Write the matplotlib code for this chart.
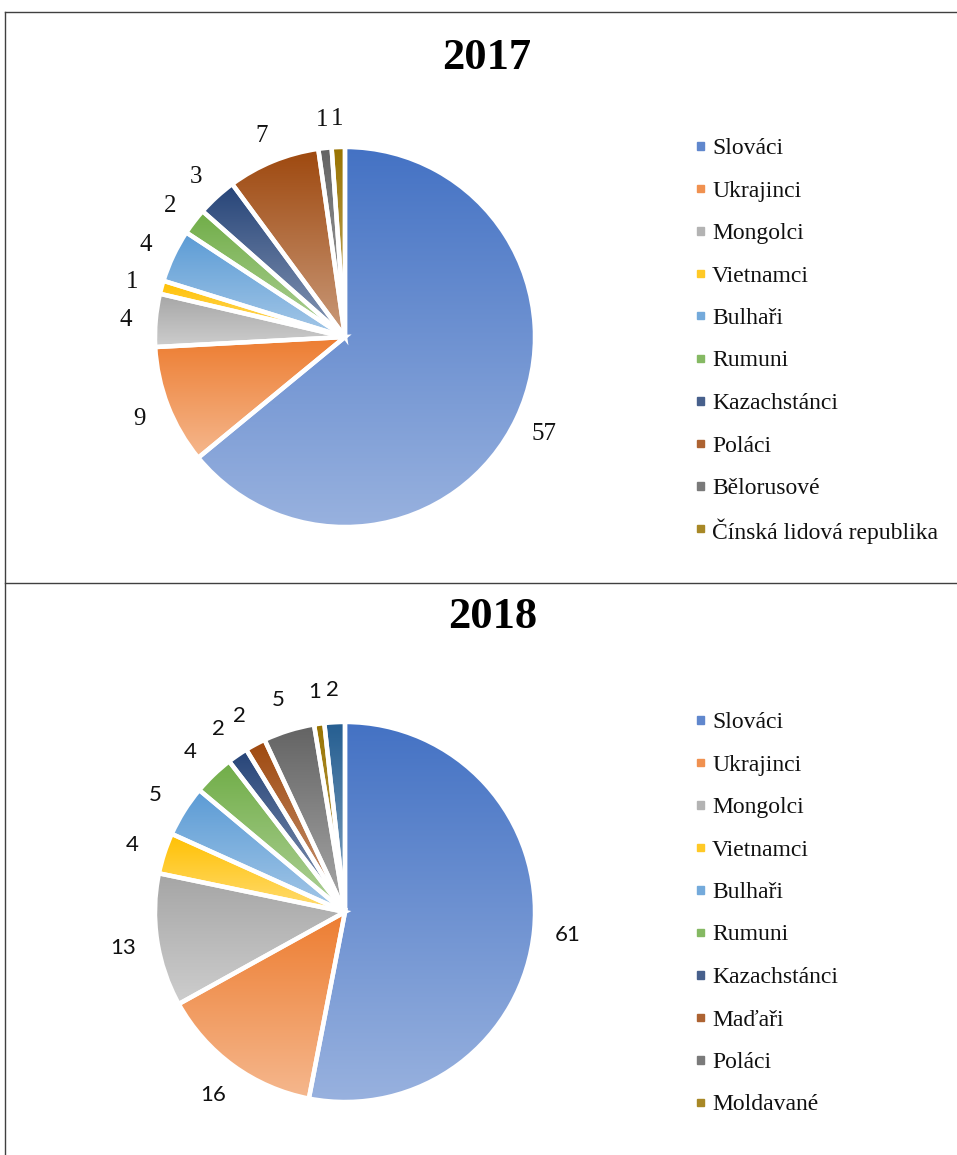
import numpy as np
import matplotlib.pyplot as plt
from matplotlib.colors import to_rgb
from matplotlib.lines import Line2D
from matplotlib.patches import Rectangle

# data
labels_2017 = ["Slováci", "Ukrajinci", "Mongolci", "Vietnamci", "Bulhaři", "Rumuni",
               "Kazachstánci", "Poláci", "Bělorusové", "Čínská lidová republika"]
values_2017 = [57, 9, 4, 1, 4, 2, 3, 7, 1, 1]

labels_2018 = ["Slováci", "Ukrajinci", "Mongolci", "Vietnamci", "Bulhaři", "Rumuni",
               "Kazachstánci", "Maďaři", "Poláci", "Moldavané"]
values_2018 = [61, 16, 13, 4, 5, 4, 2, 2, 5, 1, 2]

office_colors = ["#4472C4", "#ED7D31", "#A5A5A5", "#FFC000", "#5B9BD5", "#70AD47",
                 "#264478", "#9E480E", "#636363", "#997300", "#255E91"]
colors_2017 = office_colors[:7] + ["#9E480E", "#636363", "#997300"]
colors_2018 = office_colors

W, H = 957, 1155
fig = plt.figure(figsize=(W / 100, H / 100), dpi=100)

serif = "Liberation Serif"


def lighten(c, amt):
    c = np.array(to_rgb(c))
    return c + (1 - c) * amt


def gradient_pie(cx, cy, r, values, colors, label_font, label_size, label_dist):
    lim = 1.35
    size = 2 * lim * r
    ax = fig.add_axes([(cx - size / 2) / W, (H - cy - size / 2) / H, size / W, size / H])
    wedges, _ = ax.pie(values, startangle=90, counterclock=False, radius=1,
                       colors=colors,
                       wedgeprops=dict(edgecolor="white", linewidth=3.2))
    for w, c, v in zip(wedges, colors, values):
        ext = w.get_path().get_extents()
        top = np.array(to_rgb(c))
        bot = lighten(c, 0.45)
        t = np.linspace(0, 1, 256)[:, None, None]
        img = bot * (1 - t) + top * t
        im = ax.imshow(img, extent=(ext.x0, ext.x1, ext.y0, ext.y1), origin="lower",
                       aspect="auto", zorder=0.5, interpolation="bilinear")
        im.set_clip_path(w)
        w.set_facecolor("none")
        w.set_zorder(1)
        ang = np.deg2rad((w.theta1 + w.theta2) / 2)
        ax.text(label_dist * np.cos(ang), label_dist * np.sin(ang), str(v),
                ha="center", va="center_baseline", fontsize=label_size,
                family=label_font, color="#111111")
    ax.set_xlim(-lim, lim)
    ax.set_ylim(-lim, lim)
    ax.set_aspect("equal")
    ax.axis("off")
    return ax


def legend(x, y0, step, labels, colors):
    for i, (lab, c) in enumerate(zip(labels, colors)):
        y = y0 + i * step
        fig.add_artist(Rectangle(((x - 3.5) / W, 1 - (y + 3.5) / H), 7.5 / W, 7.5 / H,
                                 transform=fig.transFigure, color=lighten(c, 0.15)))
        fig.text((x + 12) / W, 1 - y / H, lab, ha="left", va="center_baseline",
                 fontsize=17, family=serif, color="#111111")


# borders
line_kw = dict(color="#404040", linewidth=1, transform=fig.transFigure)
fig.add_artist(Line2D([5 / W, 1], [1 - 12 / H, 1 - 12 / H], **line_kw))
fig.add_artist(Line2D([5 / W, 5 / W], [0, 1 - 12 / H], **line_kw))
fig.add_artist(Line2D([5 / W, 1], [1 - 583 / H, 1 - 583 / H], **line_kw))

# 2017
fig.text(487 / W, 1 - 58 / H, "2017", ha="center", va="center", fontsize=32,
         fontweight="bold", family=serif)
gradient_pie(345, 337, 190, values_2017, colors_2017, serif, 18, 1.16)
legend(700, 146, 42.5, labels_2017, colors_2017)

# 2018
fig.text(493 / W, 1 - 617 / H, "2018", ha="center", va="center", fontsize=32,
         fontweight="bold", family=serif)
gradient_pie(345, 912, 190, values_2018, colors_2018, "Lato", 16, 1.18)
legend(700, 720, 42.5, labels_2018, colors_2018)

fig.savefig("out.png", dpi=100)
